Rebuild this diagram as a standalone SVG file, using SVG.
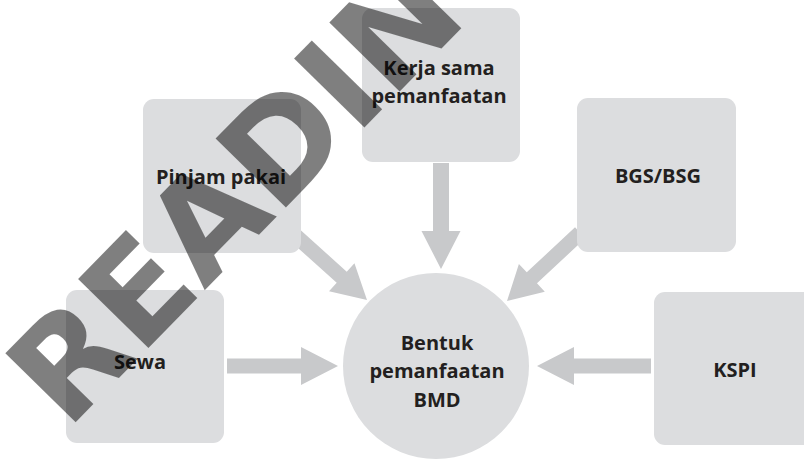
<svg xmlns="http://www.w3.org/2000/svg" width="804" height="459" viewBox="0 0 804 459">
  <style>
    .box { fill: #dcdddf; }
    .hub { fill: #dcdddf; }
    .arrow { fill: #c8c9cb; }
    .label { font-family: "Open Sans", "Noto Sans", "Liberation Sans", sans-serif; font-weight: 700; font-size: 20px; fill: #231f20; text-anchor: middle; }
    .mark { font-family: "DejaVu Sans", "Liberation Sans", sans-serif; font-weight: 700; font-size: 135px; fill: #000; fill-opacity: 0.5; }
  </style>
  <rect width="804" height="459" fill="#ffffff"/>

  <!-- block arrows: tip at local origin, pointing along +x -->
  <g id="connectors">
    <path class="arrow" d="M-111,-7.5 H-37 V-19 L0,0 L-37,19 V7.5 H-111 Z" transform="translate(338,366)"/>
    <path class="arrow" d="M-114,-7.5 H-37 V-19 L0,0 L-37,19 V7.5 H-114 Z" transform="translate(537,366) rotate(180)"/>
    <path class="arrow" d="M-106,-8 H-38 V-19.5 L0,0 L-38,19.5 V8 H-106 Z" transform="translate(441,269) rotate(90)"/>
    <path class="arrow" d="M-100,-7.5 H-34 V-19 L0,0 L-34,19 V7.5 H-100 Z" transform="translate(367,300) rotate(42)"/>
    <path class="arrow" d="M-100,-7.5 H-34 V-19 L0,0 L-34,19 V7.5 H-100 Z" transform="translate(507,301) rotate(137)"/>
  </g>

  <g id="kerja-sama">
    <rect class="box" x="362" y="8" width="158" height="154" rx="11"/>
    <text class="label" x="439" y="75">Kerja sama</text>
    <text class="label" x="439" y="103">pemanfaatan</text>
  </g>
  <g id="pinjam-pakai">
    <rect class="box" x="143" y="99" width="158" height="154" rx="11"/>
    <text class="label" x="221" y="184">Pinjam pakai</text>
  </g>
  <g id="bgs-bsg">
    <rect class="box" x="577" y="98" width="159" height="154" rx="11"/>
    <text class="label" x="658" y="183">BGS/BSG</text>
  </g>
  <g id="sewa">
    <rect class="box" x="66" y="290" width="158" height="153" rx="11"/>
    <text class="label" x="140" y="369">Sewa</text>
  </g>
  <g id="kspi">
    <rect class="box" x="654" y="292" width="170" height="153" rx="11"/>
    <text class="label" x="735" y="377">KSPI</text>
  </g>
  <g id="bentuk-pemanfaatan">
    <circle class="hub" cx="436" cy="366" r="93"/>
    <text class="label" x="437" y="350">Bentuk</text>
    <text class="label" x="437" y="378">pemanfaatan</text>
    <text class="label" x="437" y="407">BMD</text>
  </g>

  <!-- diagonal watermark -->
  <g id="watermark">
    <text class="mark" x="0" y="0" transform="translate(67,431) rotate(-45.6)">READING</text>
  </g>
</svg>
